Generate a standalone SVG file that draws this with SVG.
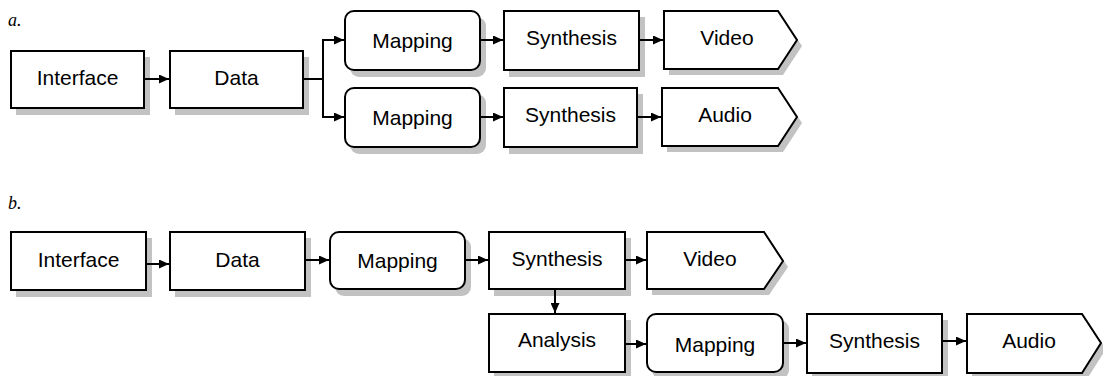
<svg xmlns="http://www.w3.org/2000/svg" width="1103" height="376" viewBox="0 0 1103 376">
<defs>
<marker id="ah" markerUnits="userSpaceOnUse" markerWidth="10" markerHeight="9" viewBox="0 0 10 9" refX="10" refY="4.5" orient="auto">
<path d="M0,0 L10,4.5 L0,9 z" fill="#000"/>
</marker>
</defs>
<style>
.box{fill:#fff;stroke:#000;stroke-width:2}
.sh{fill:#c2c2c2;stroke:none}
.t{font-family:"Liberation Sans",Arial,Helvetica,sans-serif;font-size:21px;fill:#000;text-anchor:middle}
.lbl{font-family:"Liberation Serif","Times New Roman",serif;font-style:italic;font-size:18px;fill:#000}
.c{fill:none;stroke:#000;stroke-width:2}
.ca{fill:none;stroke:#000;stroke-width:2;marker-end:url(#ah)}
</style>
<rect width="1103" height="376" fill="#fff"/>
<text class="lbl" x="8" y="26">a.</text>
<text class="lbl" x="8" y="209">b.</text>

<g id="a-interface"><rect class="sh" x="16" y="57" width="134" height="58"/><rect class="box" x="11" y="51" width="133" height="57"/><text class="t" x="77.5" y="85">Interface</text></g>
<g id="a-data"><rect class="sh" x="175" y="57" width="134" height="58"/><rect class="box" x="170" y="51" width="133" height="57"/><text class="t" x="236.5" y="85">Data</text></g>
<g id="a-mapping1"><rect class="sh" x="350" y="17" width="136" height="60" rx="9"/><rect class="box" x="345" y="11" width="135" height="59" rx="9"/><text class="t" x="412.5" y="48">Mapping</text></g>
<g id="a-synthesis1"><rect class="sh" x="509" y="17" width="136" height="60"/><rect class="box" x="504" y="11" width="135" height="59"/><text class="t" x="571.5" y="45">Synthesis</text></g>
<g id="a-video"><polygon class="sh" points="669,17 783,17 802,46 783,75 669,75"/><polygon class="box" points="664,11 778,11 797,40 778,69 664,69"/><text class="t" x="727" y="45">Video</text></g>
<g id="a-mapping2"><rect class="sh" x="350" y="94" width="136" height="60" rx="9"/><rect class="box" x="345" y="88" width="135" height="59" rx="9"/><text class="t" x="412.5" y="125">Mapping</text></g>
<g id="a-synthesis2"><rect class="sh" x="509" y="94" width="134" height="60"/><rect class="box" x="504" y="88" width="133" height="59"/><text class="t" x="570.5" y="122">Synthesis</text></g>
<g id="a-audio"><polygon class="sh" points="667,94 783,94 802,123 783,152 667,152"/><polygon class="box" points="662,88 778,88 797,117 778,146 662,146"/><text class="t" x="725" y="122">Audio</text></g>

<g id="b-interface"><rect class="sh" x="16" y="238" width="136" height="59"/><rect class="box" x="11" y="232" width="135" height="58"/><text class="t" x="78.5" y="266.5">Interface</text></g>
<g id="b-data"><rect class="sh" x="175" y="238" width="136" height="59"/><rect class="box" x="170" y="232" width="135" height="58"/><text class="t" x="237.5" y="266.5">Data</text></g>
<g id="b-mapping1"><rect class="sh" x="335" y="238" width="136" height="58" rx="9"/><rect class="box" x="330" y="232" width="135" height="57" rx="9"/><text class="t" x="397.5" y="268">Mapping</text></g>
<g id="b-synthesis1"><rect class="sh" x="494" y="238" width="137" height="58"/><rect class="box" x="489" y="232" width="136" height="57"/><text class="t" x="557" y="266">Synthesis</text></g>
<g id="b-video"><polygon class="sh" points="652,238 769,238 788,267 769,295 652,295"/><polygon class="box" points="647,232 764,232 783,261 764,289 647,289"/><text class="t" x="710" y="266">Video</text></g>
<g id="b-analysis"><rect class="sh" x="494" y="320" width="137" height="59"/><rect class="box" x="489" y="314" width="136" height="58"/><text class="t" x="557" y="347">Analysis</text></g>
<g id="b-mapping2"><rect class="sh" x="652" y="320" width="137" height="59" rx="9"/><rect class="box" x="647" y="314" width="136" height="58" rx="9"/><text class="t" x="715" y="352">Mapping</text></g>
<g id="b-synthesis2"><rect class="sh" x="812" y="320" width="136" height="60"/><rect class="box" x="807" y="314" width="135" height="59"/><text class="t" x="874.5" y="348">Synthesis</text></g>
<g id="b-audio"><polygon class="sh" points="972,320 1087,320 1106,349 1087,379 972,379"/><polygon class="box" points="967,314 1082,314 1101,343 1082,373 967,373"/><text class="t" x="1029" y="348">Audio</text></g>

<g id="connectors">
<line class="ca" x1="145" y1="79" x2="169" y2="79"/>
<polyline class="c" points="304,79 323,79"/>
<line class="c" x1="323" y1="40" x2="323" y2="117"/>
<line class="ca" x1="322" y1="40" x2="344" y2="40"/>
<line class="ca" x1="322" y1="117" x2="344" y2="117"/>
<line class="ca" x1="481" y1="40" x2="503" y2="40"/>
<line class="ca" x1="481" y1="117" x2="503" y2="117"/>
<line class="ca" x1="640" y1="40" x2="663" y2="40"/>
<line class="ca" x1="638" y1="117" x2="661" y2="117"/>

<line class="ca" x1="147" y1="264" x2="169" y2="264"/>
<line class="ca" x1="306" y1="260" x2="329" y2="260"/>
<line class="ca" x1="466" y1="260" x2="488" y2="260"/>
<line class="ca" x1="626" y1="260" x2="646" y2="260"/>
<line class="ca" x1="555" y1="290" x2="555" y2="313"/>
<line class="ca" x1="626" y1="344" x2="646" y2="344"/>
<line class="ca" x1="784" y1="343" x2="806" y2="343"/>
<line class="ca" x1="943" y1="341" x2="966" y2="341"/>
</g>
</svg>
